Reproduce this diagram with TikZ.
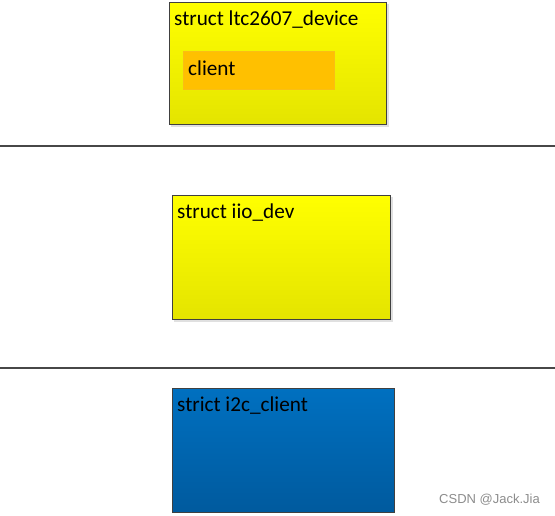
\documentclass[tikz,border=0pt]{standalone}
\usepackage{fontspec}
\setmainfont{Carlito}
\newfontfamily\wmfont{Liberation Sans}
\begin{document}
\begin{tikzpicture}[x=1pt,y=-1pt,
  box/.style={draw=black!75, line width=0.9pt, inner sep=0pt, anchor=north west},
  ybox/.style={box, top color=yellow, bottom color={rgb,255:red,228;green,228;blue,0}},
  bbox/.style={box, top color={rgb,255:red,0;green,112;blue,192}, bottom color={rgb,255:red,0;green,90;blue,158}},
  obox/.style={fill={rgb,255:red,255;green,192;blue,0}, draw={rgb,255:red,250;green,190;blue,20}, line width=0.4pt, inner sep=0pt, anchor=north west},
  shadow/.style={fill=black!12, draw=none},
  lbl/.style={anchor=base west, inner sep=0pt, font=\fontsize{21.2}{25}\selectfont, text=black},
  sep/.style={draw=black!72, line width=2pt}]
\useasboundingbox (0,0) rectangle (555,515);
% shadows
\fill[shadow] (171,4) rectangle (389,127);
\fill[shadow] (174,197) rectangle (393,322);
% boxes
\node[ybox, minimum width=217pt, minimum height=122pt] (dev) at (169,2) {};
\node[obox, minimum width=151pt, minimum height=38pt] (cl) at (183,51) {};
\node[lbl] (devl) at (174,25) {struct ltc2607\_device};
\node[lbl] (cll) at (188,75) {client};
\coordinate (l1a) at (0,146);
\coordinate (l1b) at (555,146);
\draw[sep] (l1a) -- (l1b);
\node[ybox, minimum width=218pt, minimum height=124pt] (iio) at (172,195) {};
\node[lbl] (iiol) at (177,218) {struct iio\_dev};
\coordinate (l2a) at (0,368);
\coordinate (l2b) at (555,368);
\draw[sep] (l2a) -- (l2b);
\node[bbox, minimum width=222pt, minimum height=124pt] (i2c) at (172,388) {};
\node[lbl] (i2cl) at (177,411) {strict i2c\_client};
\node[anchor=base east, inner sep=0pt, font=\wmfont\fontsize{13}{15}\selectfont, text=black!45] (wm) at (540,503) {CSDN @Jack.Jia};
\end{tikzpicture}
\end{document}
